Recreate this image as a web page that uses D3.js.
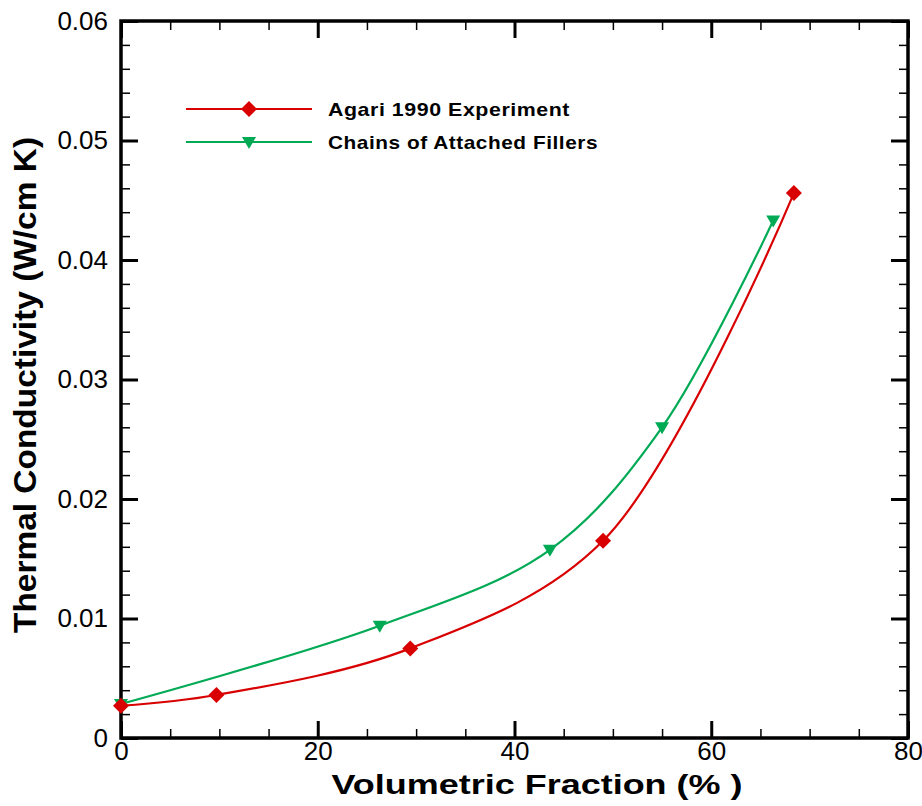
<!DOCTYPE html>
<html>
<head>
<meta charset="utf-8">
<script src="https://cdn.jsdelivr.net/npm/d3@7"></script>
<style>
html,body{margin:0;padding:0;background:#fff;}
svg{display:block;font-family:Arial,"Liberation Sans",sans-serif;}
</style>
</head>
<body>
<svg id="chart" width="922" height="806"></svg>
<script>
// ---- data ----
const seriesNames = ["Agari 1990 Experiment", "Chains of Attached Fillers"];
const agariX = [0, 9.7, 29.4, 49.0, 68.4];
const agariY = [0.0027, 0.0036, 0.0075, 0.0165, 0.0456];
const chainsX = [0, 26.3, 43.6, 55.0, 66.3];
const chainsY = [0.00285, 0.0094, 0.01575, 0.026, 0.0433];
const xMajorTicks = [0, 20, 40, 60, 80];
const yMajorTicks = [0, 0.01, 0.02, 0.03, 0.04, 0.05, 0.06];
const yTickLabels = ["0", "0.01", "0.02", "0.03", "0.04", "0.05", "0.06"];
const xTitle = "Volumetric Fraction (% )";
const yTitle = "Thermal Conductivity (W/cm K)";

const svg = d3.select("#chart");
const L = 121, R = 908, T = 21, B = 738;
const x = d3.scaleLinear().domain([0, 80]).range([L, R]);
const y = d3.scaleLinear().domain([0, 0.06]).range([B, T]);

const xMinor = d3.range(0, 80.001, 5).filter(v => !xMajorTicks.includes(v));
const yMinor = d3.range(0, 0.0601, 0.002).map(v => +v.toFixed(3)).filter(v => !yMajorTicks.some(m => Math.abs(m - v) < 1e-9));

const MAJ = 17, MIN = 9;
function styleAxis(g, w) {
  g.select(".domain").remove();
  g.selectAll(".tick line").attr("stroke", "#000").attr("stroke-width", w);
  g.selectAll("text").attr("font-size", 26).attr("fill", "#000").attr("font-family", "Arial, 'Liberation Sans', sans-serif");
}
// bottom
svg.append("g").attr("transform", `translate(0,${B})`)
  .call(d3.axisBottom(x).tickValues(xMajorTicks).tickSizeInner(-MAJ).tickSizeOuter(0).tickPadding(4).tickFormat(d3.format("d")))
  .call(g => styleAxis(g, 3));
svg.append("g").attr("transform", `translate(0,${B})`)
  .call(d3.axisBottom(x).tickValues(xMinor).tickSizeInner(-MIN).tickSizeOuter(0).tickFormat(""))
  .call(g => styleAxis(g, 1.5));
// top
svg.append("g").attr("transform", `translate(0,${T})`)
  .call(d3.axisTop(x).tickValues(xMajorTicks).tickSizeInner(-MAJ).tickSizeOuter(0).tickFormat(""))
  .call(g => styleAxis(g, 3));
svg.append("g").attr("transform", `translate(0,${T})`)
  .call(d3.axisTop(x).tickValues(xMinor).tickSizeInner(-MIN).tickSizeOuter(0).tickFormat(""))
  .call(g => styleAxis(g, 1.5));
// left
svg.append("g").attr("transform", `translate(${L},0)`)
  .call(d3.axisLeft(y).tickValues(yMajorTicks).tickSizeInner(-MAJ).tickSizeOuter(0).tickPadding(13).tickFormat((d, i) => yTickLabels[i]))
  .call(g => styleAxis(g, 3));
svg.append("g").attr("transform", `translate(${L},0)`)
  .call(d3.axisLeft(y).tickValues(yMinor).tickSizeInner(-MIN).tickSizeOuter(0).tickFormat(""))
  .call(g => styleAxis(g, 1.5));
// right
svg.append("g").attr("transform", `translate(${R},0)`)
  .call(d3.axisRight(y).tickValues(yMajorTicks).tickSizeInner(-MAJ).tickSizeOuter(0).tickFormat(""))
  .call(g => styleAxis(g, 3));
svg.append("g").attr("transform", `translate(${R},0)`)
  .call(d3.axisRight(y).tickValues(yMinor).tickSizeInner(-MIN).tickSizeOuter(0).tickFormat(""))
  .call(g => styleAxis(g, 1.5));

// frame
svg.append("rect").attr("x", L).attr("y", T).attr("width", R - L).attr("height", B - T)
  .attr("fill", "none").attr("stroke", "#000").attr("stroke-width", 3.5);

// series
const RED = "#d80000", GREEN = "#00aa55";
const line = d3.line().x(d => x(d[0])).y(d => y(d[1])).curve(d3.curveCatmullRom.alpha(0.5));
const agari = agariX.map((v, i) => [v, agariY[i]]);
const chains = chainsX.map((v, i) => [v, chainsY[i]]);

const diamondPath = "M0,-8 L8,0 L0,8 L-8,0 Z";
const triDown = "M-7,-5 L7,-5 L0,7 Z";

svg.append("path").datum(chains).attr("d", line).attr("fill", "none").attr("stroke", GREEN).attr("stroke-width", 2.2);
svg.append("path").datum(agari).attr("d", line).attr("fill", "none").attr("stroke", RED).attr("stroke-width", 2.2);

svg.append("g").selectAll("path").data(chains).join("path")
  .attr("transform", d => `translate(${x(d[0])},${y(d[1])})`).attr("d", triDown).attr("fill", GREEN);
svg.append("g").selectAll("path").data(agari).join("path")
  .attr("transform", d => `translate(${x(d[0])},${y(d[1])})`).attr("d", diamondPath).attr("fill", RED);

// legend
const leg = svg.append("g");
[[RED, 109, "d"], [GREEN, 142, "t"]].forEach((s, i) => {
  leg.append("line").attr("x1", 186).attr("x2", 312).attr("y1", s[1]).attr("y2", s[1])
    .attr("stroke", s[0]).attr("stroke-width", 2.2);
  leg.append("path").attr("transform", `translate(249,${s[1]})`)
    .attr("d", s[2] === "d" ? diamondPath : triDown).attr("fill", s[0]);
  leg.append("text").attr("x", 328).attr("y", s[1] + 7)
    .attr("font-size", 19).attr("font-weight", "bold").attr("letter-spacing", 0.5)
    .attr("textLength", i === 0 ? 242 : 270).attr("lengthAdjust", "spacingAndGlyphs")
    .text(seriesNames[i]);
});

// titles
svg.append("text").attr("x", 537).attr("y", 794).attr("text-anchor", "middle")
  .attr("font-size", 28).attr("font-weight", "bold")
  .attr("textLength", 411).attr("lengthAdjust", "spacingAndGlyphs").text(xTitle);
svg.append("text").attr("transform", "translate(36,385) rotate(-90)").attr("text-anchor", "middle")
  .attr("font-size", 31).attr("font-weight", "bold")
  .attr("textLength", 496).attr("lengthAdjust", "spacingAndGlyphs").text(yTitle);
</script>
</body>
</html>
